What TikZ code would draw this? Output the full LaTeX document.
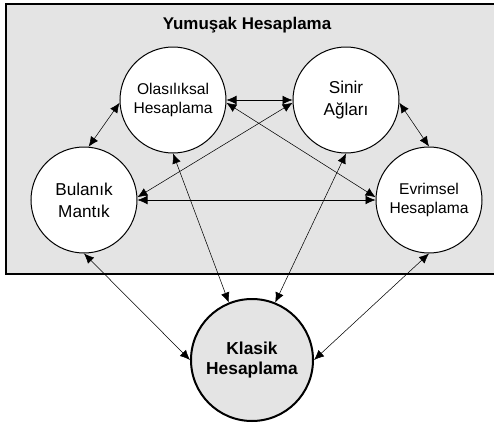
\documentclass[tikz,border=0pt]{standalone}
\usepackage{fontspec}
\setmainfont{Liberation Sans}
\usetikzlibrary{arrows.meta, shapes.geometric}
\definecolor{boxgray}{HTML}{E4E4E4}

\begin{document}
\begin{tikzpicture}[
    <->, >={Latex[length=7.5pt, width=6.5pt]}, x=0.75pt, y=-0.75pt,
    every node/.style={align=center},
    soft/.style={circle, draw, fill=white, line width=0.75pt, minimum size=79.5pt, inner sep=0pt},
    small/.style={font=\fontsize{11.7}{14}\selectfont},
    large/.style={font=\fontsize{12.9}{16.5}\selectfont},
    classic/.style={circle, draw, fill=boxgray, line width=1.5pt, minimum size=91.5pt, inner sep=0pt, font=\bfseries\fontsize{13}{15}\selectfont}
]
\useasboundingbox (0,0) rectangle (494,425);
\node (yumusak_box) [draw, fill=boxgray, line width=1.5pt, anchor=north west, minimum width=368.25pt, minimum height=202.5pt] at (5,3) {};
\node (yumusak_title) [font=\bfseries\fontsize{12.7}{15}\selectfont] at (247,25) {Yumuşak Hesaplama};
\node (olasiliksal_hesaplama) [soft, small] at (173,100) {Olasılıksal\\Hesaplama};
\node (sinir_aglari) [soft, large] at (346,100) {Sinir\\Ağları};
\node (bulanik_mantik) [soft, large] at (84,200) {Bulanık\\Mantık};
\node (evrimsel_hesaplama) [soft, small] at (429,200) {Evrimsel\\Hesaplama};
\node (klasik_hesaplama) [classic] at (252,360) {Klasik\\Hesaplama};

\draw (bulanik_mantik.85) -- (olasiliksal_hesaplama.183);
\draw (olasiliksal_hesaplama.east) -- (sinir_aglari.west);
\draw (sinir_aglari.-3) -- (evrimsel_hesaplama.north);
\draw (olasiliksal_hesaplama.-3) -- (evrimsel_hesaplama.177);
\draw (bulanik_mantik.3) -- (sinir_aglari.183);
\draw (bulanik_mantik.east) -- (evrimsel_hesaplama.west);
\draw (bulanik_mantik.south) -- (klasik_hesaplama.west);
\draw (olasiliksal_hesaplama.south) -- (klasik_hesaplama.112);
\draw (sinir_aglari.south) -- (klasik_hesaplama.68);
\draw (evrimsel_hesaplama.south) -- (klasik_hesaplama.east);
\end{tikzpicture}
\end{document}
